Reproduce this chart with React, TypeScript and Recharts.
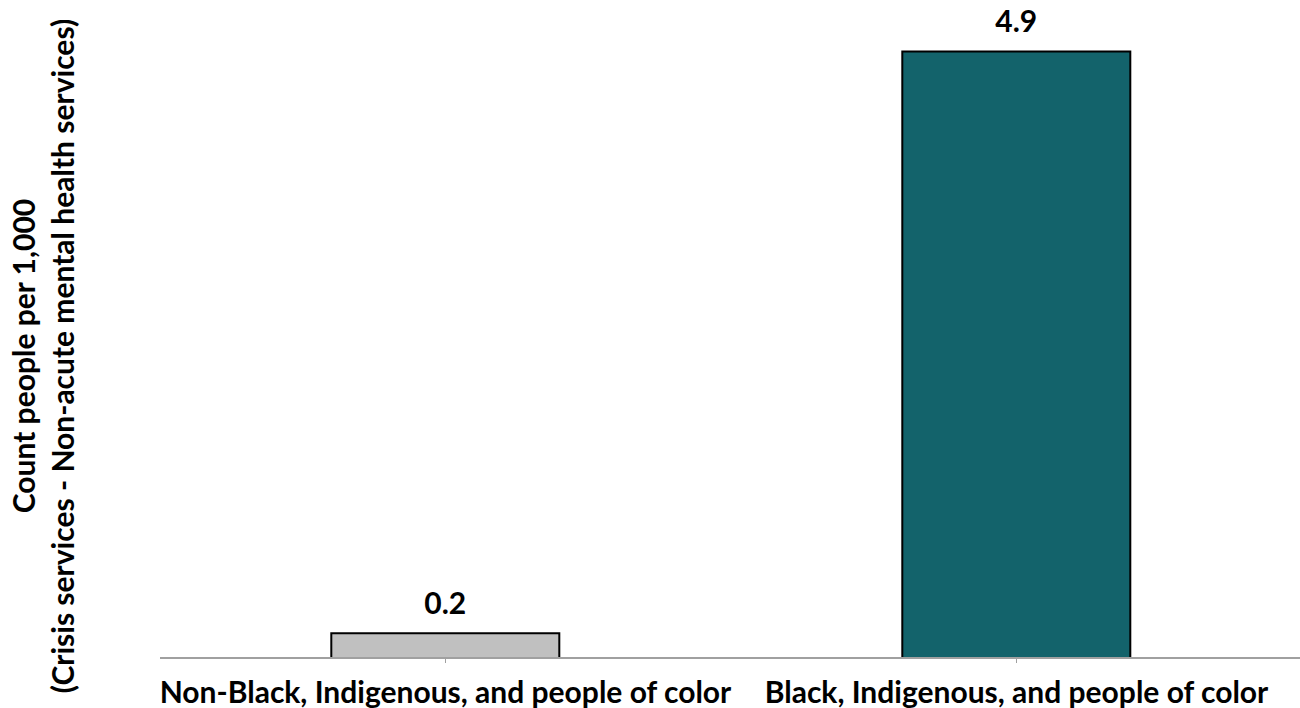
import { BarChart, Bar, XAxis, YAxis, Cell, LabelList, Label } from "recharts"

const categories = [
  "Non-Black, Indigenous, and people of color",
  "Black, Indigenous, and people of color",
]
const counts = [0.2, 4.9]
const barColors = ["#c0c0c0", "#13636b"]
const yTitleLines = [
  "Count people per 1,000",
  "(Crisis services - Non-acute mental health services)",
]

const data = categories.map((name, i) => ({ name, value: counts[i] }))

const FONT = "Lato, 'Open Sans', sans-serif"

// two-line rotated axis title, placed by hand like the excel original
function YTitle() {
  const baselines = [35, 74]
  return (
    <g>
      {yTitleLines.map((line, i) => (
        <text
          key={line}
          x={0}
          y={0}
          transform={`translate(${baselines[i]}, 356) rotate(-90)`}
          textAnchor="middle"
          fontFamily={FONT}
          fontWeight={700}
          fontSize={30}
          fill="#000"
        >
          {line}
        </text>
      ))}
    </g>
  )
}

export default function App() {
  return (
    <div style={{ position: "absolute", left: 0, top: 0, background: "#fff" }}>
      <BarChart
        width={1300}
        height={708}
        data={data}
        margin={{ top: 39, right: -2, bottom: 0, left: 10 }}
        barCategoryGap="30%"
      >
        <XAxis
          dataKey="name"
          height={50}
          axisLine={{ stroke: "#a0a0a0", strokeWidth: 2 }}
          tickLine={{ stroke: "#a0a0a0" }}
          tickSize={5}
          interval={0}
          tick={{ fill: "#000", fontSize: 30, fontWeight: 700, fontFamily: FONT }}
          tickMargin={19}
        />
        <YAxis width={150} domain={[0, 5]} tick={false} axisLine={false} tickLine={false}>
          <Label content={<YTitle />} />
        </YAxis>
        <Bar dataKey="value" stroke="#000" strokeWidth={2} isAnimationActive={false}>
          {data.map((d, i) => (
            <Cell key={d.name} fill={barColors[i]} />
          ))}
          <LabelList
            dataKey="value"
            position="top"
            offset={19}
            fill="#000"
            fontSize={30}
            fontWeight={700}
            fontFamily={FONT}
          />
        </Bar>
      </BarChart>
    </div>
  )
}
